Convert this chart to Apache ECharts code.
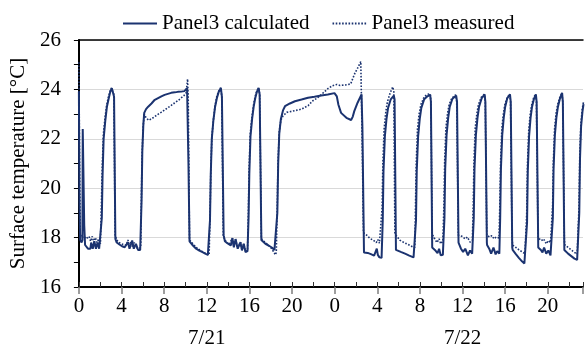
<!DOCTYPE html>
<html>
<head>
<meta charset="utf-8">
<script src="https://cdn.jsdelivr.net/npm/echarts@6/dist/echarts.min.js"></script>
<style>
  html, body { margin: 0; padding: 0; background: #fff; }
  #chart { width: 586px; height: 349px; }
</style>
</head>
<body>
<div id="chart"></div>
<script>
// Elapsed hours from 7/21 0:00, surface temperature in °C
const calculatedData = [
  [0.00,23.9],[0.05,19.5],[0.12,17.9],[0.25,17.8],[0.33,17.9],[0.36,22.4],[0.45,22.45],[0.50,18.5],[0.58,17.7],
  [0.70,17.62],[0.85,17.55],[1.08,17.55],[1.15,17.8],[1.30,17.55],[1.45,17.85],[1.60,17.55],[1.75,17.8],[1.90,17.55],[2.00,17.6],[2.08,17.55],
  [2.15,18.8],[2.22,20.5],[2.32,22.0],[2.47,22.7],[2.63,23.3],[2.78,23.6],[2.94,23.9],[3.09,24.05],[3.20,24.12],[3.30,23.7],[3.42,17.95],
  [3.55,17.8],[3.80,17.72],[4.05,17.65],[4.30,17.61],[4.60,17.81],[4.75,17.55],[5.00,17.88],[5.15,17.55],[5.35,17.75],[5.55,17.5],[5.75,17.5],
  [5.82,17.5],[5.88,19.5],[5.95,21.5],[6.05,22.6],[6.13,23.05],[6.30,23.2],[6.50,23.3],[6.81,23.43],[7.12,23.58],[7.43,23.65],[7.74,23.72],
  [8.04,23.78],[8.35,23.82],[8.66,23.86],[9.00,23.88],[9.28,23.9],[9.60,23.91],[9.90,23.93],[10.05,23.95],[10.15,24.05],[10.22,24.0],[10.28,21.0],[10.38,17.85],
  [10.50,17.8],[10.70,17.68],[11.00,17.55],[11.30,17.47],[11.60,17.41],[11.90,17.34],[12.10,17.3],[12.25,17.27],
  [12.30,18.7],[12.37,20.5],[12.47,22.0],[12.62,22.75],[12.78,23.3],[12.95,23.65],[13.12,23.9],[13.32,24.06],[13.42,23.7],[13.58,18.1],
  [13.70,17.85],[13.90,17.78],[14.08,17.75],[14.25,17.68],[14.40,17.98],[14.54,17.61],[14.70,17.94],[14.90,17.55],[15.16,17.81],[15.30,17.48],[15.47,17.75],[15.63,17.41],[15.82,17.45],
  [15.87,17.45],[15.92,18.8],[15.99,20.6],[16.10,22.1],[16.25,22.8],[16.40,23.3],[16.55,23.65],[16.70,23.9],[16.86,24.06],[16.96,23.8],[17.12,17.9],
  [17.20,17.85],[17.50,17.75],[17.80,17.68],[18.10,17.6],[18.35,17.5],[18.52,17.45],
  [18.57,17.45],[18.62,19.0],[18.70,21.0],[18.80,22.2],[18.95,22.8],[19.15,23.15],[19.34,23.32],[19.80,23.43],[20.27,23.52],[20.89,23.59],[21.50,23.66],
  [22.10,23.7],[22.74,23.75],[23.36,23.79],[23.98,23.85],[24.20,23.72],[24.35,23.38],[24.60,23.05],[25.10,22.85],[25.54,22.76],[25.70,22.9],[25.84,23.12],
  [26.15,23.46],[26.52,23.8],[26.60,22.5],[26.75,17.4],
  [26.80,17.45],[27.10,17.38],[27.40,17.33],[27.70,17.27],[27.85,17.3],[27.95,17.55],[28.05,17.3],[28.20,17.2],[28.40,17.18],
  [28.46,17.2],[28.51,18.7],[28.58,20.7],[28.71,22.1],[28.86,22.8],[29.01,23.25],[29.26,23.6],[29.55,23.75],[29.62,23.6],[29.75,17.5],
  [30.20,17.42],[30.60,17.35],[31.00,17.27],[31.40,17.2],[31.55,17.18],
  [31.58,17.18],[31.63,18.7],[31.70,20.7],[31.83,22.1],[31.98,22.8],[32.13,23.25],[32.40,23.6],[32.70,23.72],[32.96,23.78],[33.03,23.5],[33.15,17.6],
  [33.40,17.5],[33.65,17.37],[33.80,17.55],[33.95,17.28],[34.15,17.3],
  [34.25,17.3],[34.30,18.8],[34.37,20.8],[34.50,22.15],[34.65,22.85],[34.80,23.3],[35.05,23.62],[35.40,23.75],[35.48,23.5],[35.62,17.8],
  [35.70,17.75],[35.85,17.55],[36.05,17.42],[36.25,17.55],[36.50,17.28],[36.70,17.48],[36.90,17.35],[36.98,17.35],
  [37.00,17.35],[37.05,18.8],[37.12,20.8],[37.25,22.15],[37.40,22.85],[37.55,23.3],[37.80,23.65],[38.07,23.8],[38.14,23.5],[38.28,17.8],
  [38.30,17.7],[38.50,17.55],[38.68,17.35],[38.90,17.6],[39.10,17.32],[39.25,17.45],[39.45,17.35],
  [39.48,17.35],[39.53,18.8],[39.60,20.8],[39.72,22.15],[39.86,22.85],[40.00,23.3],[40.20,23.65],[40.45,23.8],[40.52,23.5],[40.66,17.6],
  [40.70,17.5],[41.00,17.33],[41.30,17.17],[41.60,17.03],[41.80,16.95],[41.95,16.97],
  [42.00,16.97],[42.05,18.6],[42.12,20.7],[42.24,22.1],[42.38,22.85],[42.52,23.3],[42.70,23.62],[42.88,23.8],[42.95,23.5],[43.10,17.6],
  [43.12,17.62],[43.35,17.5],[43.50,17.4],[43.65,17.6],[43.85,17.35],[44.05,17.48],[44.25,17.28],[44.40,17.32],
  [44.42,17.32],[44.47,18.8],[44.54,20.8],[44.66,22.15],[44.80,22.85],[44.95,23.3],[45.15,23.65],[45.34,23.86],[45.41,23.5],[45.55,17.5],
  [45.60,17.45],[45.90,17.35],[46.20,17.25],[46.50,17.15],[46.75,17.1],[46.88,17.12],
  [46.90,17.12],[46.95,19.0],[47.02,21.2],[47.12,22.5],[47.25,23.1],[47.35,23.4]
];

const measuredData = [
  [0.00,25.1],[0.05,22.0],[0.12,18.2],[0.25,18.0],[0.35,17.95],[0.50,18.05],[0.65,17.95],[0.80,17.9],[0.95,18.05],[1.10,17.85],[1.25,18.05],
  [1.40,17.8],[1.55,18.0],[1.70,17.8],[1.85,17.95],[2.02,17.75],
  [2.06,17.8],[2.12,19.5],[2.20,21.0],[2.30,22.2],[2.45,22.85],[2.60,23.35],[2.75,23.65],[2.90,23.9],[3.05,24.05],[3.18,24.1],[3.28,23.8],[3.40,18.1],
  [3.55,17.9],[3.75,17.8],[4.00,17.75],[4.25,17.7],[4.45,17.7],[4.60,17.9],[4.75,17.65],[4.90,17.85],[5.05,17.6],[5.20,17.8],[5.40,17.6],[5.60,17.55],[5.78,17.55],
  [5.80,17.6],[5.86,19.5],[5.93,21.4],[6.03,22.5],[6.13,23.0],[6.30,22.85],[6.56,22.75],[6.85,22.82],[7.12,22.9],[7.45,23.0],[7.74,23.08],[8.05,23.17],
  [8.35,23.26],[8.66,23.35],[8.97,23.45],[9.30,23.55],[9.59,23.65],[9.85,23.75],[10.05,23.84],[10.15,24.2],[10.20,24.42],[10.26,23.6],[10.38,17.9],
  [10.50,17.85],[10.80,17.7],[11.10,17.57],[11.40,17.48],[11.70,17.4],[12.00,17.33],[12.22,17.3],
  [12.25,17.35],[12.31,19.0],[12.38,20.8],[12.48,22.1],[12.63,22.8],[12.78,23.35],[12.93,23.7],[13.10,23.92],[13.30,24.06],[13.40,23.75],[13.55,18.1],
  [13.70,17.9],[13.90,17.8],[14.10,17.72],[14.25,17.68],[14.40,17.98],[14.54,17.63],[14.70,17.92],[14.90,17.57],[15.15,17.82],[15.30,17.5],[15.47,17.75],[15.63,17.45],[15.82,17.47],
  [15.85,17.5],[15.90,19.0],[15.97,20.8],[16.08,22.2],[16.23,22.85],[16.38,23.35],[16.53,23.7],[16.68,23.92],[16.86,24.06],[16.96,23.8],[17.12,18.0],
  [17.20,17.9],[17.50,17.8],[17.80,17.68],[18.10,17.55],[18.30,17.4],[18.40,17.45],[18.45,17.3],[18.52,17.4],
  [18.55,17.4],[18.60,19.0],[18.68,21.0],[18.80,22.3],[18.95,22.75],[19.15,22.93],[19.50,23.07],[20.27,23.14],[20.89,23.2],[21.50,23.34],[21.95,23.54],
  [22.40,23.66],[22.85,23.83],[23.36,24.03],[23.80,24.15],[24.20,24.2],[24.50,24.16],[25.00,24.18],[25.50,24.22],[25.90,24.66],[26.20,24.9],[26.45,25.13],
  [26.52,25.15],[26.58,22.0],[26.70,18.2],
  [26.75,18.25],[27.00,18.1],[27.30,17.97],[27.60,17.9],[27.90,17.8],[28.05,17.92],[28.20,17.77],[28.38,17.8],
  [28.40,17.8],[28.45,19.2],[28.52,21.0],[28.64,22.4],[28.80,23.1],[28.95,23.5],[29.20,23.85],[29.45,24.1],[29.55,23.9],[29.65,18.2],
  [29.75,18.1],[30.10,17.9],[30.50,17.8],[30.90,17.72],[31.30,17.63],[31.52,17.6],
  [31.53,17.6],[31.58,19.2],[31.65,21.0],[31.77,22.4],[31.92,23.0],[32.10,23.4],[32.40,23.7],[32.70,23.8],[32.96,23.82],[33.03,23.5],[33.15,17.9],
  [33.20,18.1],[33.45,17.9],[33.60,17.8],[33.80,17.95],[33.95,17.75],[34.15,17.85],
  [34.20,17.85],[34.25,19.3],[34.32,21.1],[34.44,22.45],[34.60,23.05],[34.75,23.4],[35.00,23.65],[35.35,23.78],[35.45,23.5],[35.60,18.1],
  [35.70,18.15],[35.95,18.05],[36.25,17.95],[36.45,18.02],[36.70,17.82],[36.92,17.88],
  [36.95,17.9],[37.00,19.3],[37.07,21.1],[37.19,22.45],[37.35,23.05],[37.50,23.4],[37.75,23.68],[38.05,23.8],[38.13,23.5],[38.27,18.1],
  [38.35,18.12],[38.55,18.02],[38.75,18.08],[38.95,17.95],[39.15,18.02],[39.42,17.98],
  [39.45,18.0],[39.50,19.4],[39.57,21.1],[39.69,22.45],[39.84,23.05],[39.98,23.4],[40.20,23.68],[40.43,23.8],[40.50,23.5],[40.64,18.0],
  [40.70,17.7],[41.00,17.6],[41.30,17.5],[41.60,17.42],[41.85,17.35],[41.95,17.35],
  [41.97,17.35],[42.02,19.0],[42.09,21.0],[42.21,22.35],[42.35,23.0],[42.50,23.4],[42.68,23.68],[42.86,23.8],[42.93,23.5],[43.08,18.0],
  [43.15,18.0],[43.40,17.88],[43.60,17.95],[43.85,17.75],[44.05,17.88],[44.25,17.8],[44.38,17.82],
  [44.40,17.82],[44.45,19.3],[44.52,21.1],[44.64,22.45],[44.78,23.05],[44.93,23.4],[45.13,23.68],[45.32,23.85],[45.40,23.5],[45.55,17.9],
  [45.60,17.7],[45.90,17.6],[46.20,17.5],[46.50,17.4],[46.75,17.33],[46.86,17.35],
  [46.88,17.35],[46.93,19.3],[47.00,21.4],[47.10,22.6],[47.23,23.2],[47.35,23.5]
];

const seriesNames = ['Panel3 calculated', 'Panel3 measured'];
const dateLabels = { 12: '7/21', 36: '7/22' };
const hourSpan = [0, 47.3];
const tempRange = [16, 26];

const FONT = 'Liberation Serif';
const FONT_SIZE = 21;
const NAVY = '#1b3370';

const chart = echarts.init(document.getElementById('chart'), null, { renderer: 'canvas' });

const baseX = {
  type: 'value', min: hourSpan[0], max: hourSpan[1],
  splitLine: { show: false }
};

chart.setOption({
  animation: false,
  textStyle: { fontFamily: FONT },
  legend: {
    left: 117, top: 8,
    itemWidth: 34, itemHeight: 14, itemGap: 22,
    itemStyle: { opacity: 0 },
    textStyle: { fontFamily: FONT, fontSize: FONT_SIZE, color: '#000' },
    data: seriesNames
  },
  grid: { left: 76.7, top: 40, right: 0, bottom: 60.5, containLabel: false },
  xAxis: [
    Object.assign({}, baseX, {
      position: 'bottom', interval: 4,
      axisLine: { show: true, lineStyle: { color: '#000', width: 2 } },
      axisTick: { show: true, length: 7, lineStyle: { color: '#7f7f7f', width: 1.5 } },
      axisLabel: {
        margin: 9, fontFamily: FONT, fontSize: FONT_SIZE, color: '#000',
        formatter: v => (v % 4 === 0 ? String(v % 24) : '')
      }
    }),
    Object.assign({}, baseX, {
      position: 'bottom', interval: 2,
      axisLine: { show: false },
      axisTick: { show: true, inside: true, length: 5, lineStyle: { color: '#333', width: 1 } },
      axisLabel: { show: false }
    }),
    Object.assign({}, baseX, {
      position: 'bottom', interval: 12, offset: 35,
      axisLine: { show: false }, axisTick: { show: false },
      axisLabel: {
        fontFamily: FONT, fontSize: FONT_SIZE, color: '#000', margin: 6,
        formatter: v => dateLabels[v] || ''
      }
    }),
    Object.assign({}, baseX, {
      position: 'top',
      axisLine: { show: true, lineStyle: { color: '#000', width: 1.5 } },
      axisTick: { show: false }, axisLabel: { show: false }
    })
  ],
  yAxis: {
    type: 'value', min: tempRange[0], max: tempRange[1], interval: 2,
    name: 'Surface temperature [°C]', nameLocation: 'middle', nameGap: 48,
    nameTextStyle: { fontFamily: FONT, fontSize: FONT_SIZE, color: '#000' },
    axisLine: { show: true, lineStyle: { color: '#000', width: 2 } },
    axisTick: { show: true, length: 5, lineStyle: { color: '#000', width: 1 } },
    minorTick: { show: true, splitNumber: 2, length: 5, lineStyle: { color: '#000', width: 1 } },
    axisLabel: { margin: 18, fontFamily: FONT, fontSize: FONT_SIZE, color: '#000' },
    splitLine: { show: true, lineStyle: { color: '#d9d9d9', width: 1 } }
  },
  series: [
    {
      name: seriesNames[0], type: 'line', data: calculatedData, xAxisIndex: 0,
      symbol: 'none', showSymbol: false, clip: true,
      lineStyle: { color: NAVY, width: 2 }, itemStyle: { color: NAVY, opacity: 0 }, z: 3
    },
    {
      name: seriesNames[1], type: 'line', data: measuredData, xAxisIndex: 0,
      symbol: 'none', showSymbol: false, clip: true,
      lineStyle: { color: NAVY, width: 1.6, type: [1.6, 1.6] }, itemStyle: { color: NAVY, opacity: 0 }, z: 2
    }
  ]
});
</script>
</body>
</html>
